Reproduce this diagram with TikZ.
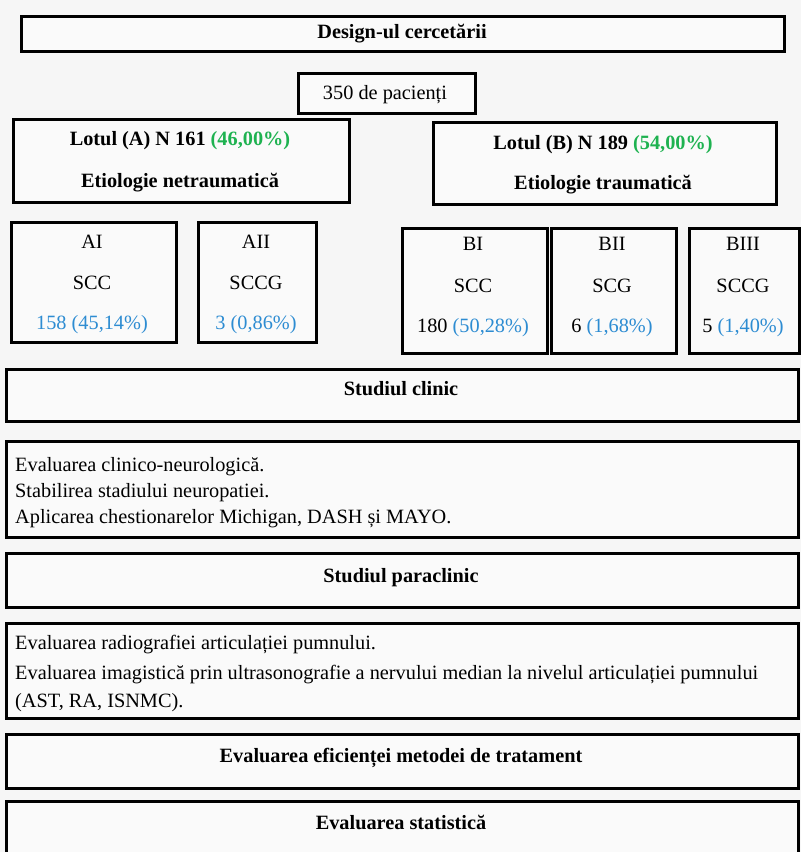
\documentclass[tikz,border=0pt]{standalone}
\usepackage{fontspec}
\setmainfont{Liberation Serif}
\definecolor{grn}{RGB}{30,178,80}
\definecolor{blu}{RGB}{45,140,210}
\definecolor{bg}{RGB}{246,246,246}
\definecolor{boxfill}{RGB}{250,250,250}
\begin{document}
\begin{tikzpicture}[x=1pt,y=-1pt,
  box/.style={draw=black, line width=3.2pt, fill=boxfill, inner sep=0pt, anchor=north west},
  txt/.style={anchor=base, inner sep=0pt, font=\fontsize{20.3}{24}\selectfont},
  txtb/.style={txt, font=\fontsize{20.3}{24}\selectfont\bfseries},
  txtl/.style={txt, anchor=base west}]
\useasboundingbox (0,0) rectangle (801,852);
\fill[bg] (0,0) rectangle (801,852);
\clip (0,0) rectangle (801,852);
% boxes
\node[box, minimum width=763pt, minimum height=35pt] (title) at (20,15) {};
\node[box, minimum width=177pt, minimum height=40pt] (pac) at (297,72) {};
\node[box, minimum width=336pt, minimum height=83pt] (la) at (12,118) {};
\node[box, minimum width=343pt, minimum height=82pt] (lb) at (432,121) {};
\node[box, minimum width=165pt, minimum height=120pt] (ai) at (10,221) {};
\node[box, minimum width=118pt, minimum height=120pt] (aii) at (197,221) {};
\node[box, minimum width=145pt, minimum height=125pt] (bi) at (401,227) {};
\node[box, minimum width=125pt, minimum height=125pt] (bii) at (550,227) {};
\node[box, minimum width=110pt, minimum height=125pt] (biii) at (688,227) {};
\node[box, minimum width=792pt, minimum height=52pt] (clin) at (5,368) {};
\node[box, minimum width=792pt, minimum height=96pt] (clind) at (5,440) {};
\node[box, minimum width=792pt, minimum height=54pt] (para) at (5,552) {};
\node[box, minimum width=792pt, minimum height=95pt] (parad) at (5,622) {};
\node[box, minimum width=792pt, minimum height=54pt] (efic) at (5,733) {};
\node[box, minimum width=792pt, minimum height=70pt] (stat) at (5,800) {};
% texts
\node[txtb] (t1) at (402,38) {Design-ul cercetării};
\node[txt] (t2) at (385,99) {350 de pacienți};
\node[txtb] (la1) at (180,145) {Lotul (A) N 161 {\color{grn}(46,00\%)}};
\node[txtb] (la2) at (180,187) {Etiologie netraumatică};
\node[txtb] (lb1) at (603,149) {Lotul (B) N 189 {\color{grn}(54,00\%)}};
\node[txtb] (lb2) at (603,189) {Etiologie traumatică};
\node[txt] (ai1) at (92,248) {AI};
\node[txt] (ai2) at (92,289) {SCC};
\node[txt] (ai3) at (92,329) {\color{blu}158 (45,14\%)};
\node[txt] (aii1) at (256,248) {AII};
\node[txt] (aii2) at (256,289) {SCCG};
\node[txt] (aii3) at (256,329) {\color{blu}3 (0,86\%)};
\node[txt] (bi1) at (473,250) {BI};
\node[txt] (bi2) at (473,292) {SCC};
\node[txt] (bi3) at (473,332) {180 {\color{blu}(50,28\%)}};
\node[txt] (bii1) at (612,250) {BII};
\node[txt] (bii2) at (612,292) {SCG};
\node[txt] (bii3) at (612,332) {6 {\color{blu}(1,68\%)}};
\node[txt] (biii1) at (743,250) {BIII};
\node[txt] (biii2) at (743,292) {SCCG};
\node[txt] (biii3) at (743,332) {5 {\color{blu}(1,40\%)}};
\node[txtb] (c0) at (401,395) {Studiul clinic};
\node[txtl] (c1) at (15,471) {Evaluarea clinico-neurologică.};
\node[txtl] (c2) at (15,497) {Stabilirea stadiului neuropatiei.};
\node[txtl] (c3) at (15,523) {Aplicarea chestionarelor Michigan, DASH și MAYO.};
\node[txtb] (p0) at (401,582) {Studiul paraclinic};
\node[txtl] (p1) at (15,649) {Evaluarea radiografiei articulației pumnului.};
\node[txtl] (p2) at (15,679) {Evaluarea imagistică prin ultrasonografie a nervului median la nivelul articulației pumnului};
\node[txtl] (p3) at (15,707) {(AST, RA, ISNMC).};
\node[txtb] (e0) at (401,762) {Evaluarea eficienței metodei de tratament};
\node[txtb] (s0) at (401,829) {Evaluarea statistică};
\end{tikzpicture}
\end{document}
